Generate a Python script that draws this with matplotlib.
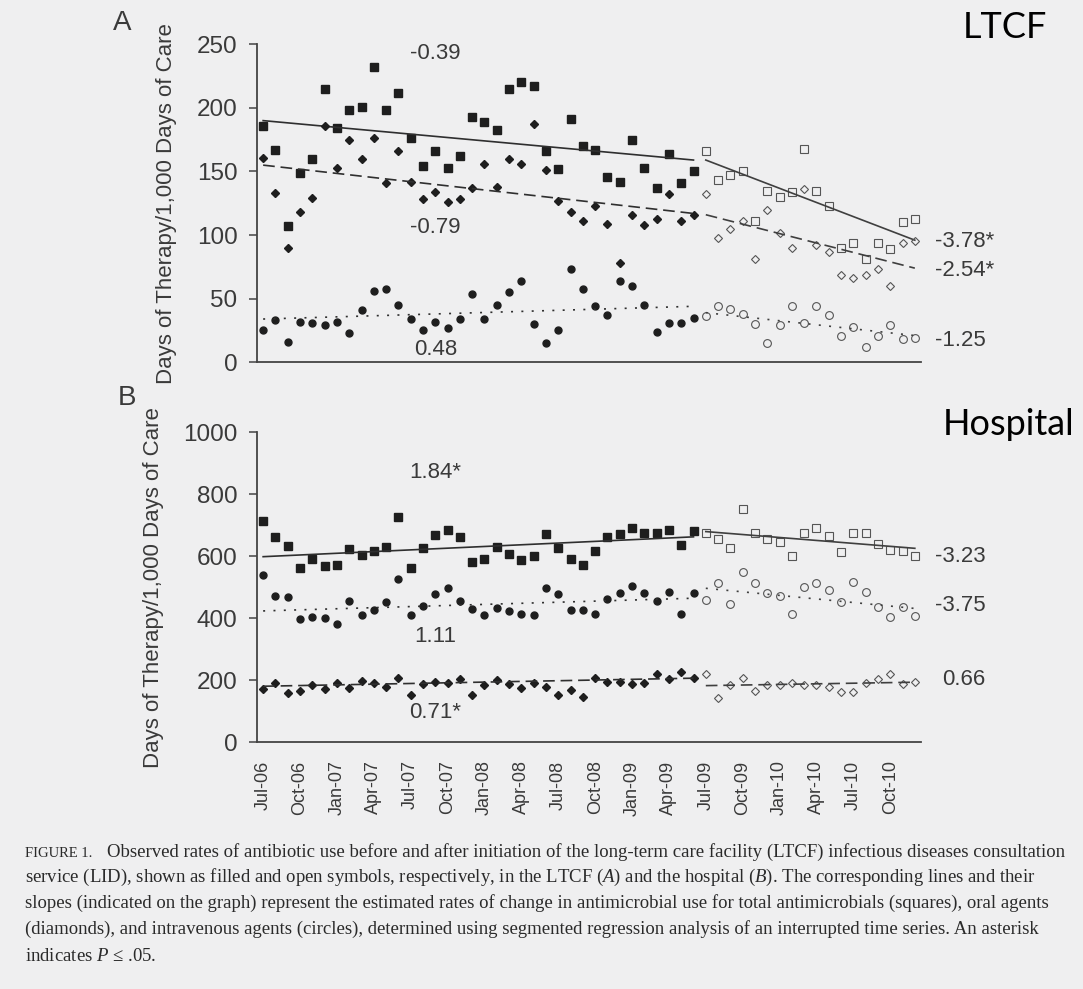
import numpy as np
import matplotlib.pyplot as plt

plt.rcParams['font.family'] = 'Liberation Sans'
plt.rcParams['mathtext.fontset'] = 'custom'
plt.rcParams['mathtext.rm'] = 'Liberation Serif'
plt.rcParams['mathtext.it'] = 'Liberation Serif:italic'

# months: index 0 = Jul-06 ... 35 = Jun-09 (before LID), 36 = Jul-09 ... 53 = Dec-10 (after)
tick_labels = ['Jul-06', 'Oct-06', 'Jan-07', 'Apr-07', 'Jul-07', 'Oct-07', 'Jan-08', 'Apr-08',
               'Jul-08', 'Oct-08', 'Jan-09', 'Apr-09', 'Jul-09', 'Oct-09', 'Jan-10', 'Apr-10',
               'Jul-10', 'Oct-10']
n_pre = 36
n_post = 18

# ---- A: LTCF ----
ltcf_total_pre = [186, 167, 107, 149, 160, 215, 184, 198, 201, 232, 198, 212,
                  176, 154, 166, 153, 162, 193, 189, 183, 215, 220, 217, 166,
                  152, 191, 170, 167, 146, 142, 175, 153, 137, 164, 141, 150]
ltcf_oral_pre = [161, 133, 90, 118, 129, 186, 153, 175, 160, 176, 141, 166,
                 142, 128, 134, 126, 128, 137, 156, 138, 160, 156, 187, 151,
                 127, 118, 111, 123, 109, 78, 116, 108, 113, 132, 111, 116]
ltcf_iv_pre = [25, 33, 16, 32, 31, 29, 32, 23, 41, 56, 58, 45,
               34, 25, 32, 27, 34, 54, 34, 45, 55, 64, 30, 15,
               25, 73, 58, 44, 37, 64, 60, 45, 24, 31, 31, 35]
ltcf_total_post = [166, 143, 147, 150, 111, 135, 130, 134, 168, 135, 123, 90,
                   94, 81, 94, 89, 110, 113]
ltcf_oral_post = [132, 98, 105, 111, 81, 120, 102, 90, 136, 92, 87, 69,
                  66, 69, 73, 60, 94, 95]
ltcf_iv_post = [36, 44, 42, 38, 30, 15, 29, 44, 31, 44, 37, 21,
                28, 12, 21, 29, 18, 19]
# fitted segment ends: pre start, pre end, post start, post end
ltcf_total_trend = [190, 159, 159, 96]
ltcf_oral_trend = [155, 117, 116, 74]
ltcf_iv_trend = [34, 44, 39, 21]
ltcf_pre_slopes = ['-0.39', '-0.79', '0.48']
ltcf_post_slopes = ['-3.78*', '-2.54*', '-1.25']

# ---- B: Hospital ----
hosp_total_pre = [713, 662, 632, 561, 590, 570, 573, 625, 605, 618, 631, 726,
                  564, 627, 668, 685, 663, 583, 592, 631, 607, 588, 602, 672,
                  628, 593, 571, 618, 663, 672, 692, 674, 674, 685, 637, 683]
hosp_iv_pre = [540, 472, 470, 397, 405, 402, 381, 455, 410, 427, 453, 526,
               412, 441, 477, 497, 457, 429, 410, 433, 424, 415, 411, 497,
               477, 427, 427, 413, 464, 483, 506, 483, 457, 484, 413, 481]
hosp_oral_pre = [171, 190, 160, 167, 185, 171, 190, 174, 199, 190, 180, 206,
                 153, 188, 196, 190, 204, 153, 185, 201, 188, 174, 193, 180,
                 153, 169, 147, 206, 196, 196, 188, 193, 219, 204, 228, 206]
hosp_total_post = [676, 656, 628, 753, 676, 656, 647, 602, 677, 693, 666, 613,
                   676, 674, 640, 620, 618, 602]
hosp_iv_post = [459, 513, 446, 550, 515, 483, 472, 414, 500, 515, 491, 454,
                518, 486, 438, 403, 438, 407]
hosp_oral_post = [220, 142, 185, 209, 167, 185, 185, 190, 185, 185, 180, 161,
                  161, 190, 204, 220, 188, 196]
hosp_total_trend = [599, 663, 680, 626]
hosp_oral_trend = [181, 207, 183, 194]
hosp_iv_trend = [424, 465, 497, 432]
hosp_pre_slopes = ['1.84*', '1.11', '0.71*']
hosp_post_slopes = ['-3.23', '-3.75', '0.66']

caption = [
    'Observed rates of antibiotic use before and after initiation of the long-term care facility (LTCF) infectious diseases consultation',
    'service (LID), shown as filled and open symbols, respectively, in the LTCF ($\\it{A}$) and the hospital ($\\it{B}$). The corresponding lines and their',
    'slopes (indicated on the graph) represent the estimated rates of change in antimicrobial use for total antimicrobials (squares), oral agents',
    '(diamonds), and intravenous agents (circles), determined using segmented regression analysis of an interrupted time series. An asterisk',
    'indicates $\\it{P}$ \u2264 .05.',
]

BG = '#efeff0'
INK = '#3a3a3a'

x_pre = np.arange(n_pre)
x_post = np.arange(n_pre, n_pre + n_post)

# marker, line style, marker size
series_style = {
    'total': ('s', '-', 5.2),
    'oral': ('D', (0, (7, 3.5)), 3.7),
    'iv': ('o', (0, (1.2, 5)), 5.0),
}


def draw_series(ax, kind, pre, post, trend):
    marker, ls, ms = series_style[kind]
    ax.plot(x_pre, pre, ls='none', marker=marker, ms=ms, color='#1e1e1e', mec='#1e1e1e')
    ax.plot(x_post, post, ls='none', marker=marker, ms=ms + 0.6, mfc='none', mec='#555555', mew=0.8)
    ax.plot([x_pre[0], x_pre[-1]], trend[:2], ls=ls, color='#2f2f2f', lw=1.2)
    ax.plot([x_post[0], x_post[-1]], trend[2:], ls=ls, color='#3f3f3f', lw=1.2)


def style_axes(ax, ymax, yticks):
    ax.set_facecolor(BG)
    ax.set_xlim(-0.5, 53.5)
    ax.set_ylim(0, ymax)
    ax.set_yticks(yticks)
    ax.spines['top'].set_visible(False)
    ax.spines['right'].set_visible(False)
    for s in ('left', 'bottom'):
        ax.spines[s].set_color('#444444')
        ax.spines[s].set_linewidth(1.3)
    ax.tick_params(axis='y', direction='out', length=6, width=1.1, color='#444444',
                   labelsize=17.5, labelcolor=INK, pad=8)
    ax.set_xticks(np.arange(0, 54, 3))
    ax.tick_params(axis='x', length=0, pad=13, labelsize=13, labelcolor=INK)
    ax.set_ylabel('Days of Therapy/1,000 Days of Care', fontsize=16, color=INK, labelpad=14)


fig = plt.figure(figsize=(10.83, 9.89), dpi=100)
fig.patch.set_facecolor(BG)

axA = fig.add_axes([0.2373, 0.6337, 0.6131, 0.3215])
axB = fig.add_axes([0.2373, 0.2494, 0.6131, 0.3134])

draw_series(axA, 'total', ltcf_total_pre, ltcf_total_post, ltcf_total_trend)
draw_series(axA, 'oral', ltcf_oral_pre, ltcf_oral_post, ltcf_oral_trend)
draw_series(axA, 'iv', ltcf_iv_pre, ltcf_iv_post, ltcf_iv_trend)
style_axes(axA, 250, [0, 50, 100, 150, 200, 250])
axA.set_xticklabels([])

draw_series(axB, 'total', hosp_total_pre, hosp_total_post, hosp_total_trend)
draw_series(axB, 'oral', hosp_oral_pre, hosp_oral_post, hosp_oral_trend)
draw_series(axB, 'iv', hosp_iv_pre, hosp_iv_post, hosp_iv_trend)
style_axes(axB, 1000, [0, 200, 400, 600, 800, 1000])
axB.set_xticklabels(tick_labels, rotation=90)

# slope annotations
for y, s in zip([243, 106, 10], ltcf_pre_slopes):
    axA.text(14, y, s, ha='center', va='center', fontsize=16, color=INK)
for y, s in zip([95, 72, 17.5], ltcf_post_slopes):
    axA.text(54.6, y, s, ha='left', va='center', fontsize=16, color=INK)
for y, s in zip([869, 340, 95], hosp_pre_slopes):
    axB.text(14, y, s, ha='center', va='center', fontsize=16, color=INK)
for y, s, x in zip([598, 443, 204], hosp_post_slopes, [54.6, 54.6, 55.2]):
    axB.text(x, y, s, ha='left', va='center', fontsize=16, color=INK)

fig.text(113 / 1083, 1 - 30 / 989, 'A', fontsize=20, color=INK, va='baseline')
fig.text(118 / 1083, 1 - 405 / 989, 'B', fontsize=20, color=INK, va='baseline')
fig.text(963 / 1083, 1 - 38 / 989, 'LTCF', fontsize=26, family='Lato', color='black', va='baseline')
fig.text(943 / 1083, 1 - 435 / 989, 'Hospital', fontsize=26, family='Lato', color='black', va='baseline')

# figure caption
cap_y = [857, 882, 908, 934, 961]
fig.text(25 / 1083, 1 - cap_y[0] / 989, 'FIGURE 1.', fontsize=10.5, family='Liberation Serif',
         color='#2a2a2a', va='baseline')
fig.text(107 / 1083, 1 - cap_y[0] / 989, caption[0], fontsize=13.5, family='Liberation Serif',
         color='#2a2a2a', va='baseline')
for y, line in zip(cap_y[1:], caption[1:]):
    fig.text(25 / 1083, 1 - y / 989, line, fontsize=13.5, family='Liberation Serif',
             color='#2a2a2a', va='baseline')

fig.savefig('out.png', dpi=100, facecolor=BG)
